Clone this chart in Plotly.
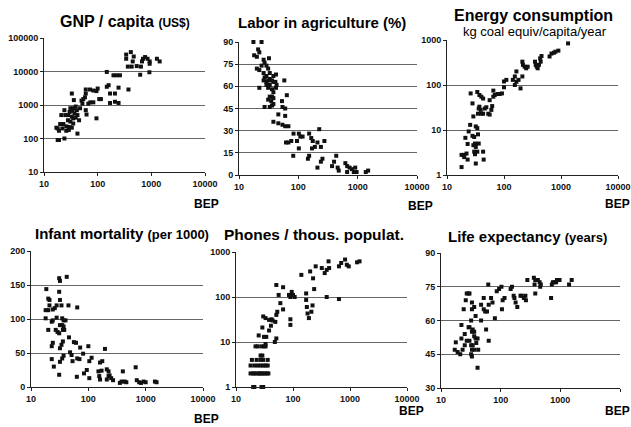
import plotly.graph_objects as go

W, H = 631, 427

# ---------------- data ----------------
xticks = [10, 100, 1000, 10000]
xtick_text = ["10", "100", "1000", "10000"]

gnp_bep = [340, 340, 415, 470, 450, 365, 430, 535,
           670, 700, 765, 850, 930, 930, 640, 620, 920, 1270, 1430,
           148, 197, 225, 260, 375, 148, 160, 170, 210, 245, 170, 210, 245,
           100, 95, 83, 72, 60, 107, 115, 95, 73, 83, 67, 58, 60, 54, 50, 52, 60, 62,
           33, 36, 31, 35, 39, 30, 34, 37, 42, 28, 33, 35, 39, 24, 25, 21, 28, 31, 35,
           45, 26, 30, 33, 23, 20, 22, 18, 17, 19, 18, 19, 24, 42, 26, 29, 47, 41]
gnp_val = [32000, 24000, 38000, 28000, 20000, 14000, 14000, 14500,
           20000, 24000, 27000, 24000, 20000, 17000, 14000, 8000, 9500, 24000, 20000,
           9700, 7700, 7700, 7700, 2900, 3500, 3900, 2200, 2200, 3300, 1150, 1250, 1150,
           3100, 2600, 2700, 2900, 2900, 1500, 1500, 400, 1200, 1200, 1100, 1700, 2200, 1500, 1350, 1100, 700, 520,
           2200, 1400, 800, 800, 900, 620, 670, 560, 500, 500, 450, 400, 420, 700, 500, 500, 350, 320, 280,
           350, 230, 220, 210, 270, 270, 200, 200, 210, 170, 90, 90, 100, 140, 170, 180, 800, 700]
gnp_ticks = [10, 100, 1000, 10000, 100000]

labor_bep = [17.5, 24, 18, 20, 21, 22, 20, 22, 24, 26, 27, 32, 29, 31,
             26, 27, 29, 33, 38, 42, 26, 29, 31, 33, 36, 38, 29, 33, 41, 43, 42,
             22, 31, 36, 38, 58, 33, 36, 31, 38, 35, 27, 33, 36, 38, 53, 54, 60, 64,
             46, 60, 38, 46, 54, 60, 68, 62, 68, 76, 83, 82, 95, 102, 108, 118, 102,
             152, 165, 175, 170, 152, 145, 190, 210, 225, 240, 275, 210, 240, 255,
             370, 400, 435, 460, 480, 620, 665, 730, 800, 910, 860, 960, 665, 1370, 1500]
labor_val = [90, 90, 81, 80, 85, 83, 72, 71, 74, 78, 76, 79, 74, 72,
             69, 66, 67, 69, 67, 68, 64, 63, 64, 65, 64, 63, 61, 61, 63, 61, 59,
             59, 59, 58, 56, 64, 53, 53, 51, 52, 50, 46, 46, 47, 48, 50, 46, 45, 54,
             41, 40, 36, 35, 34, 33, 33, 22, 22, 23, 28, 13, 23, 28, 26, 26, 18,
             28, 25, 23, 18, 13, 11, 19, 22, 31, 19, 23, 5, 9, 11,
             6, 9, 13, 5, 3, 8, 6, 5, 4, 5, 2, 2, 2, 2, 3]
labor_ticks = [0, 15, 30, 45, 60, 75, 90]

energy_bep = [18, 18, 20, 20, 23, 22, 21, 23, 24, 25.5, 26, 28, 29, 28, 30,
              29, 31, 30, 31, 32, 32, 32, 34, 35, 36, 34, 37, 40, 43, 35, 36, 34,
              37, 39, 40, 43, 46, 43, 44, 49, 53, 56, 60, 62,
              56, 65, 65, 69, 77, 84, 92, 100, 100, 110,
              143, 155, 165, 165, 180, 155, 195, 210, 215, 230, 245, 260, 210,
              350, 360, 375, 390, 410, 440, 455, 430, 630, 680, 750, 800, 900, 1330]
energy_val = [1.5, 2.8, 2.8, 2.5, 2.2, 3, 6.7, 4.9, 9.3, 13, 65, 39, 20, 7.4, 7,
              4.6, 5, 3.3, 2.9, 4.2, 1.8, 12, 11, 23, 30, 70, 60, 55, 50, 8, 5, 3.3,
              33, 28, 23, 23, 30, 3.3, 2.2, 32, 23, 22, 28, 34,
              46, 75, 55, 60, 63, 63, 65, 89, 120, 130,
              130, 155, 200, 118, 130, 100, 84, 155, 280, 255, 235, 255, 330,
              330, 280, 255, 235, 280, 330, 440, 390, 430, 500, 520, 550, 580, 840]
energy_ticks = [1, 10, 100, 1000]

infant_bep = [18.5, 18, 18, 20, 21, 20, 21, 20, 23, 24, 24, 26, 23, 24, 23, 25,
              28, 27, 29, 31, 31, 32, 31, 32, 34, 28, 32, 35, 37, 36, 38, 35, 37, 40,
              32, 34, 36, 32, 35, 37, 31, 42, 45, 46, 48, 51, 53, 56, 61, 64, 70, 63, 64,
              72, 81, 84, 94, 100, 104, 114, 104, 150, 155, 160, 160, 175, 195,
              170, 210, 225, 225, 235, 250, 270, 210, 355, 380, 400, 430, 460,
              670, 700, 770, 830, 920, 1000, 1450, 1550]
infant_val = [144, 113, 101, 130, 128, 113, 120, 84, 96, 98, 114, 116, 60, 65, 41, 30,
              102, 84, 81, 79, 160, 156, 140, 128, 120, 120, 91, 91, 89, 84, 84, 101, 98, 98,
              57, 62, 67, 37, 42, 46, 18, 162, 120, 73, 51, 47, 38, 66, 65, 42, 41, 15, 117,
              58, 49, 20, 25, 60, 38, 43, 13, 23, 16, 11, 36, 38, 56,
              24, 26, 23, 16, 17, 13, 10, 11, 6, 8, 23, 8, 7,
              29, 10, 7, 6, 8, 7, 8, 7]
infant_ticks = [0, 50, 100, 150, 200]

phones_bep = [20, 21, 28, 30, 18, 20, 21, 23, 25, 26, 28, 30, 32, 35, 37,
              18, 21, 24, 27, 30, 33, 36, 19, 23, 27, 30, 36, 27, 29, 22, 24, 28, 31, 33,
              25, 29, 31, 33, 34, 30, 33, 38, 42, 44, 41, 38, 48, 51,
              51, 56, 53, 51, 49, 60, 67, 67, 85, 90, 95, 100, 107, 90, 90,
              140, 170, 170, 175, 180, 190, 200, 220, 210, 235, 225,
              250, 320, 360, 390, 420, 430, 390, 640, 640, 700, 820, 880, 950, 1330, 1470]
phones_val = [1, 1, 1, 1, 2, 2, 2, 2, 2, 2, 2, 2, 2, 2, 2,
              3, 3, 3, 3, 3, 3, 3, 4, 4, 4, 4, 4, 5, 5, 8, 8, 8, 8, 8,
              14, 21, 13, 9, 13, 37, 34, 31, 32, 30, 23, 18, 10, 12,
              185, 111, 47, 40, 28, 73, 53, 165, 111, 100, 130, 111, 100, 32, 24,
              310, 120, 86, 60, 43, 34, 370, 65, 47, 150, 260,
              480, 440, 340, 400, 620, 440, 100, 90, 480, 570, 680, 520, 480, 590, 620]
phones_ticks = [1, 10, 100, 1000]

life_bep = [17.7, 17, 19, 21, 22, 23, 24, 25, 22, 25, 26, 27, 29, 30, 29, 30, 27, 30,
            33, 32, 33, 36, 33, 34, 36, 32, 33, 32, 33, 34, 36, 38, 41, 39, 38, 36, 42, 41,
            47, 47, 52, 52, 55, 59, 57, 63, 62, 63, 69, 73, 80, 86, 94, 103, 108, 116, 105,
            147, 155, 165, 170, 178, 190, 215, 225, 245, 260, 265,
            280, 360, 380, 420, 450, 470, 460, 370, 380,
            700, 720, 800, 850, 880, 970, 750, 1400, 1550]
life_val = [50.3, 47, 46, 45, 52, 47, 65, 54, 58, 49, 69, 72, 72, 72, 57, 57, 51, 51,
            65, 60, 68, 66, 55, 56, 55, 49, 47, 45, 44, 49, 53, 52, 52, 50, 62, 47, 47, 39,
            67, 60, 70, 65, 64, 64, 56, 51, 76, 67, 70, 68, 61, 73, 74, 75, 69, 70, 65,
            74, 75, 71, 70, 68, 66, 71, 71, 70, 71, 69,
            78, 79, 78, 78, 77, 76, 75, 76, 72,
            70, 76, 77, 77, 78, 78, 77, 76, 78]
life_ticks = [30, 45, 60, 75, 90]

# ---------------- layout helpers ----------------
FONT = "Liberation Sans, Arial, sans-serif"

panels = [
    # x, y, y-type, y-range, y-ticks, plot box in px (left, right, top, bottom)
    (gnp_bep, gnp_val, "log", [1, 5], gnp_ticks, (44, 205, 38, 172)),
    (labor_bep, labor_val, "linear", [0, 90], labor_ticks, (239, 417, 42, 175)),
    (energy_bep, energy_val, "log", [0, 3], energy_ticks, (447, 618, 40, 175)),
    (infant_bep, infant_val, "linear", [0, 200], infant_ticks, (31, 203, 251, 387)),
    (phones_bep, phones_val, "log", [0, 3], phones_ticks, (236, 407, 252, 387)),
    (life_bep, life_val, "linear", [30, 90], life_ticks, (441, 620, 253, 388)),
]

fig = go.Figure()
tickfont = dict(family=FONT, size=9, color="#111", weight="bold")

for i, (xs, ys, ytype, yrange, yt, box) in enumerate(panels, start=1):
    assert len(xs) == len(ys), (i, len(xs), len(ys))
    l, r, t, b = box
    sfx = "" if i == 1 else str(i)
    fig.add_trace(go.Scatter(
        x=xs, y=ys, mode="markers",
        marker=dict(symbol="square", size=4, color="#111", line=dict(width=0)),
        xaxis="x" + sfx, yaxis="y" + sfx, hoverinfo="skip", showlegend=False,
        cliponaxis=False))
    fig.layout["xaxis" + sfx] = dict(
        type="log", range=[1, 4], domain=[l / W, r / W], anchor="y" + sfx,
        tickvals=xticks, ticktext=xtick_text, ticks="outside", ticklen=3,
        tickcolor="#222", showline=True, linecolor="#222", linewidth=1,
        showgrid=False, zeroline=False, tickfont=tickfont, fixedrange=True,
        automargin=False)
    fig.layout["yaxis" + sfx] = dict(
        type=ytype, range=yrange, domain=[1 - b / H, 1 - t / H], anchor="x" + sfx,
        tickvals=yt, ticktext=[str(v) for v in yt], ticks="outside", ticklen=3,
        tickcolor="#222", showline=True, linecolor="#222", linewidth=1,
        showgrid=True, gridcolor="#666", gridwidth=1, zeroline=False,
        tickfont=tickfont, fixedrange=True, automargin=False)

def ann(text, xc, yc, size, bold=True):
    return dict(text=text, x=xc / W, y=1 - yc / H, xref="paper", yref="paper",
                xanchor="center", yanchor="middle", showarrow=False,
                font=dict(family=FONT, size=size, color="#000",
                          weight="bold" if bold else "normal"))

small = "<span style='font-size:12px'>"
small13 = "<span style='font-size:13px'>"
annotations = [
    ann("<b>GNP / capita " + small + "(US$)</span></b>", 125, 21, 16),
    ann("<b>Labor in agriculture (%)</b>", 322, 22, 15),
    ann("<b>Energy consumption</b>", 533, 15, 16),
    ann("kg coal equiv/capita/year", 535, 32, 13, bold=False),
    ann("<b>Infant mortality " + small13 + "(per 1000)</span></b>", 122, 233, 15),
    ann("<b>Phones / thous. populat.</b>", 314, 234, 15.5),
    ann("<b>Life expectancy " + small13 + "(years)</span></b>", 527, 237, 15),
]
for (bx, by) in [(206, 204), (420, 206), (617, 204), (206, 419), (411, 411), (617, 411)]:
    annotations.append(ann("<b>BEP</b>", bx, by, 12))

fig.update_layout(
    template="none",
    width=W, height=H, margin=dict(l=0, r=0, t=0, b=0, autoexpand=False),
    paper_bgcolor="white", plot_bgcolor="white",
    annotations=annotations, showlegend=False,
    font=dict(family=FONT, color="#000"))

# the page's default 8px body margin would shift the figure; remove it
fig.write_html("out.html",
               config={"displayModeBar": False, "staticPlot": True},
               post_script="document.body.style.margin='0';"
                           "document.body.style.overflow='hidden';")
